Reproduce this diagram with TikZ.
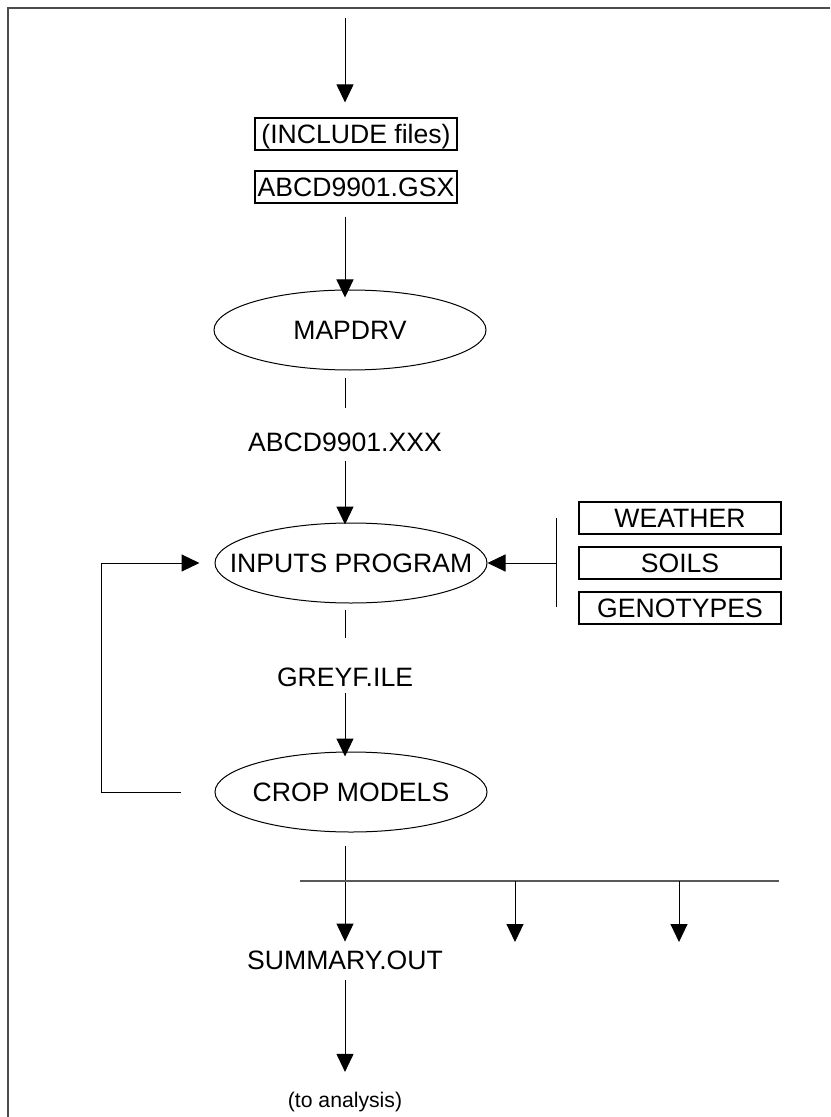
\documentclass[tikz,border=0pt]{standalone}
\usepackage{fontspec}
\setmainfont{Liberation Sans}
\usetikzlibrary{shapes.geometric,arrows.meta}

\tikzset{
  prog/.style={ellipse, draw, line width=0.5pt, inner sep=0pt,
    minimum width=136pt, minimum height=40pt},
  filebox/.style={draw, line width=0.6pt, inner sep=0pt,
    minimum width=101pt, minimum height=16pt},
  fname/.style={inner sep=0pt},
  link/.style={line width=0.5pt},
  arr/.style={line width=0.5pt, -{Triangle[length=9pt,width=8.5pt]}},
  frame/.style={line width=1pt, draw=black!70},
  bus/.style={line width=0.8pt, draw=black!65}
}
\newcommand{\progname}[1]{\makebox[0pt]{#1}}

\begin{document}
\begin{tikzpicture}[x=0.5pt, y=-0.5pt,
  every node/.style={font=\fontsize{13.3}{16}\selectfont, text height=9.5pt, text depth=0pt}]
\useasboundingbox (0,0) rectangle (830,1117);
% \clip (0,0) rectangle (830,1117);
\draw [frame] (830,8) -- (8,8) -- (8,1117);

%% files and programs
\node [filebox] (incl) at (356,134) {(INCLUDE files)};
\node [filebox] (gsx) at (356,187) {ABCD9901.GSX};
\node [prog] (mapdrv) at (350,330) {\progname{MAPDRV}};
\node [fname] (xxx) at (345,442) {ABCD9901.XXX};
\node [prog] (inputs) at (351,563) {\progname{INPUTS PROGRAM}};
\node [filebox] (weather) at (680,518) {WEATHER};
\node [filebox] (soils) at (680,563) {SOILS};
\node [filebox] (geno) at (680,608) {GENOTYPES};
\node [fname] (greyf) at (345,677) {GREYF.ILE};
\node [prog] (crop) at (351,792) {\progname{CROP MODELS}};
\node [fname] (summary) at (345,960) {SUMMARY.OUT};
\node [fname, font=\fontsize{10.6}{13}\selectfont, text height=7.7pt] (analysis) at (345,1100) {(to analysis)};

\coordinate (top) at (345,18);
\coordinate (bart) at (556,518);
\coordinate (barb) at (556,607);
\coordinate (busl) at (300,881);
\coordinate (busr) at (779,881);
\coordinate (bra) at (515,881);
\coordinate (brb) at (679,881);

%% main column
\draw [arr, shorten >=7.5pt] (top) -- (top |- incl.north);
\draw [arr, shorten <=6.5pt, shorten >=-4pt] (gsx.south -| xxx) -- (xxx |- mapdrv.north);
\draw [link, shorten <=3.5pt, shorten >=12pt] (mapdrv.south -| xxx) -- (xxx.north);
\draw [arr, shorten <=4.75pt, shorten >=-1pt] (xxx.south) -- (xxx |- inputs.north);
\draw [link, shorten <=3pt, shorten >=14.75pt] (inputs.south -| greyf) -- (greyf.north);
\draw [arr, shorten <=3.25pt, shorten >=-2.5pt] (greyf.south) -- (greyf |- crop.north);
\draw [arr, shorten <=6.5pt, shorten >=4.25pt] (crop.south -| summary) -- (summary.north);
\draw [arr, shorten <=5.25pt, shorten >=10pt] (summary.south) -- (analysis.north);

%% data files into inputs
\draw [link] (bart) -- (barb);
\draw [arr] (inputs.east -| bart) -- (inputs.east);

%% feedback loop
\draw [arr] ([xshift=-17pt]crop.west) -- ++(-79,0) |- ([xshift=-7.5pt]inputs.west);

%% outputs
\draw [bus] (busl) -- (busr);
\draw [arr] (bra) -- ++(0,61);
\draw [arr] (brb) -- ++(0,61);

\end{tikzpicture}
\end{document}
